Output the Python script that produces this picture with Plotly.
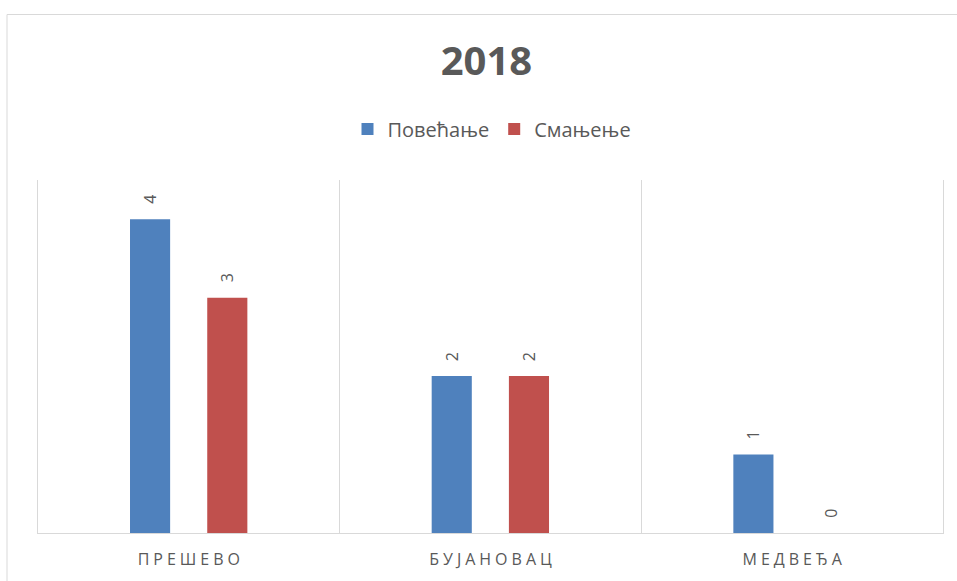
import plotly.graph_objects as go

# Municipalities and counts of increases / decreases in 2018
categories = ["ПРЕШЕВО", "БУЈАНОВАЦ", "МЕДВЕЂА"]
increase = [4, 2, 1]
decrease = [3, 2, 0]
series_names = ["Повећање", "Смањење"]
title_text = "2018"

BLUE = "#4F81BD"
RED = "#C0504D"
TEXT = "#595959"
GRID = "#d9d9d9"
FONT = "Open Sans"


def spaced(label):
    # widen the tracking of the category captions
    return "\u2005".join(label)


tick_labels = [spaced(c) for c in categories]

fig = go.Figure()
annotations = []
for name, vals, color, offset, shift in [
    (series_names[0], increase, BLUE, -0.195, -38.8),
    (series_names[1], decrease, RED, 0.061, 38.2),
]:
    fig.add_trace(
        go.Bar(
            x=categories,
            y=vals,
            name=name,
            marker=dict(color=color, line=dict(width=0)),
            width=0.133,
            offset=offset,
            hovertemplate="%{x}: %{y}<extra>" + name + "</extra>",
        )
    )
    # rotated value labels sitting a little above each bar
    for cat, v in zip(categories, vals):
        annotations.append(
            dict(
                x=cat,
                y=v,
                xref="x",
                yref="y",
                text=str(v),
                showarrow=False,
                textangle=-90,
                xshift=shift,
                yshift=13,
                xanchor="center",
                yanchor="bottom",
                font=dict(family=FONT, size=16, color=TEXT),
            )
        )

fig.update_layout(
    width=957,
    height=581,
    barmode="overlay",
    paper_bgcolor="white",
    plot_bgcolor="white",
    margin=dict(l=38, r=14, t=180, b=48),
    title=dict(
        text="<b>" + title_text + "</b>",
        x=486.5 / 957,
        xanchor="center",
        y=1 - 61 / 581,
        yref="container",
        yanchor="middle",
        font=dict(family=FONT, size=40, color=TEXT),
    ),
    legend=dict(
        orientation="h",
        x=492 / 957,
        xref="container",
        xanchor="center",
        y=1 - 129 / 581,
        yref="container",
        yanchor="middle",
        font=dict(family=FONT, size=20, color=TEXT),
        itemwidth=30,
        tracegroupgap=0,
    ),
    annotations=annotations,
    xaxis=dict(
        type="category",
        range=[-0.5, 2.5],
        tickvals=categories,
        ticktext=tick_labels,
        tickson="boundaries",
        ticks="",
        ticklabelstandoff=12,
        showgrid=True,
        gridcolor=GRID,
        gridwidth=1,
        showline=True,
        linecolor=GRID,
        linewidth=1,
        tickfont=dict(family=FONT, size=16, color=TEXT),
        fixedrange=True,
    ),
    yaxis=dict(
        range=[0, 4.5],
        showgrid=False,
        zeroline=False,
        showticklabels=False,
        showline=True,
        mirror=True,
        linecolor=GRID,
        linewidth=1,
        fixedrange=True,
    ),
    shapes=[
        # outer chart frame
        dict(
            type="rect",
            xref="paper",
            yref="paper",
            x0=(7 - 38) / 905,
            x1=1.2,
            y0=-0.5,
            y1=(533 - 14.5) / 353,
            line=dict(color=GRID, width=1),
            fillcolor="rgba(0,0,0,0)",
            layer="below",
        )
    ],
)

fig.write_html("out.html")
